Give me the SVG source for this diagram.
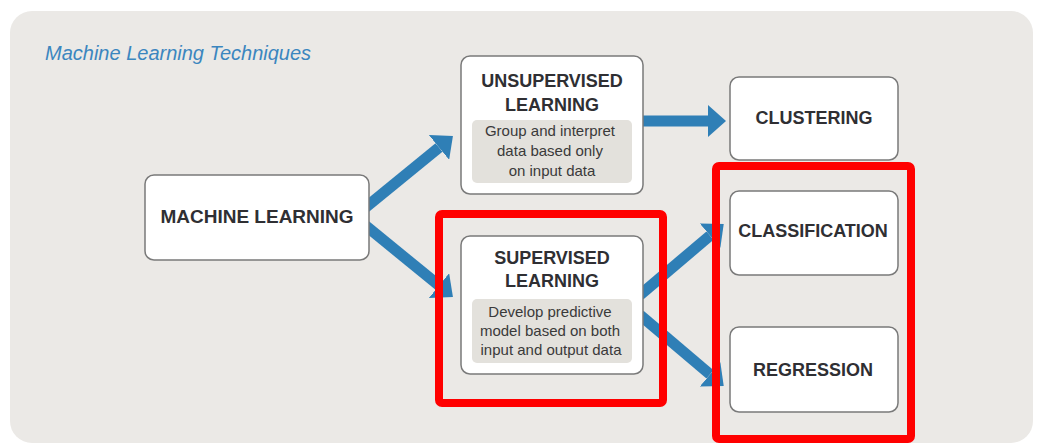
<svg xmlns="http://www.w3.org/2000/svg" width="1039" height="447" viewBox="0 0 1039 447">
  <style>
    .panel { fill: #ebe9e6; }
    .node { fill: #ffffff; stroke: #7a7a7a; stroke-width: 1.5; }
    .desc { fill: #e3e1dc; }
    .title { font-family: "Liberation Sans", Arial, sans-serif; font-weight: bold; font-size: 18px; fill: #2f2f33; text-anchor: middle; }
    .small { font-family: "Liberation Sans", Arial, sans-serif; font-size: 15px; fill: #3a3a3a; text-anchor: middle; }
    .heading { font-family: "Liberation Sans", Arial, sans-serif; font-style: italic; font-size: 20px; fill: #3b86bf; }
    .conn { stroke: #2f7fb6; stroke-width: 11; fill: none; marker-end: url(#head); }
    .hl { fill: none; stroke: #ff0000; stroke-width: 8; }
  </style>
  <defs>
    <marker id="head" viewBox="0 -16 18 32" refX="0" refY="0" markerWidth="18" markerHeight="32" markerUnits="userSpaceOnUse" orient="auto">
      <path d="M0,-16 L18,0 L0,16 Z" fill="#2f7fb6"/>
    </marker>
  </defs>

  <rect class="panel" x="10" y="11" width="1023" height="432" rx="22"/>
  <text class="heading" x="45" y="60">Machine Learning Techniques</text>

  <g id="connectors">
    <line class="conn" x1="360" y1="212" x2="439" y2="147.4"/>
    <line class="conn" x1="360" y1="221" x2="439" y2="285.6"/>
    <line class="conn" x1="640" y1="121" x2="708" y2="121"/>
    <line class="conn" x1="640" y1="295" x2="710" y2="235.6"/>
    <line class="conn" x1="640" y1="315" x2="710" y2="374.4"/>
  </g>

  <g id="machine-learning">
    <rect class="node" x="145" y="175" width="224" height="85" rx="9"/>
    <text class="title" x="257" y="223" style="font-size:19px">MACHINE LEARNING</text>
  </g>

  <g id="unsupervised">
    <rect class="node" x="461" y="56" width="182" height="138" rx="9"/>
    <text class="title" x="552" y="87">UNSUPERVISED</text>
    <text class="title" x="552" y="111">LEARNING</text>
    <rect class="desc" x="472" y="120" width="160" height="63" rx="5"/>
    <text class="small" x="550" y="136">Group and interpret</text>
    <text class="small" x="550" y="156">data based only</text>
    <text class="small" x="552" y="176">on input data</text>
  </g>

  <g id="supervised">
    <rect class="node" x="461" y="236" width="182" height="138" rx="9"/>
    <text class="title" x="552" y="264">SUPERVISED</text>
    <text class="title" x="552" y="287">LEARNING</text>
    <rect class="desc" x="472" y="299" width="160" height="64" rx="5"/>
    <text class="small" x="550" y="317">Develop predictive</text>
    <text class="small" x="550" y="336">model based on both</text>
    <text class="small" x="551" y="355">input and output data</text>
  </g>

  <g id="clustering">
    <rect class="node" x="730" y="77" width="168" height="83" rx="9"/>
    <text class="title" x="814" y="124">CLUSTERING</text>
  </g>

  <g id="classification">
    <rect class="node" x="730" y="191" width="168" height="84" rx="9"/>
    <text class="title" x="813" y="237">CLASSIFICATION</text>
  </g>

  <g id="regression">
    <rect class="node" x="730" y="327" width="168" height="85" rx="9"/>
    <text class="title" x="813" y="376">REGRESSION</text>
  </g>

  <g id="highlights">
    <rect class="hl" x="439" y="214" width="224" height="189" rx="3"/>
    <rect class="hl" x="716" y="166" width="195" height="273" rx="3"/>
  </g>
</svg>
